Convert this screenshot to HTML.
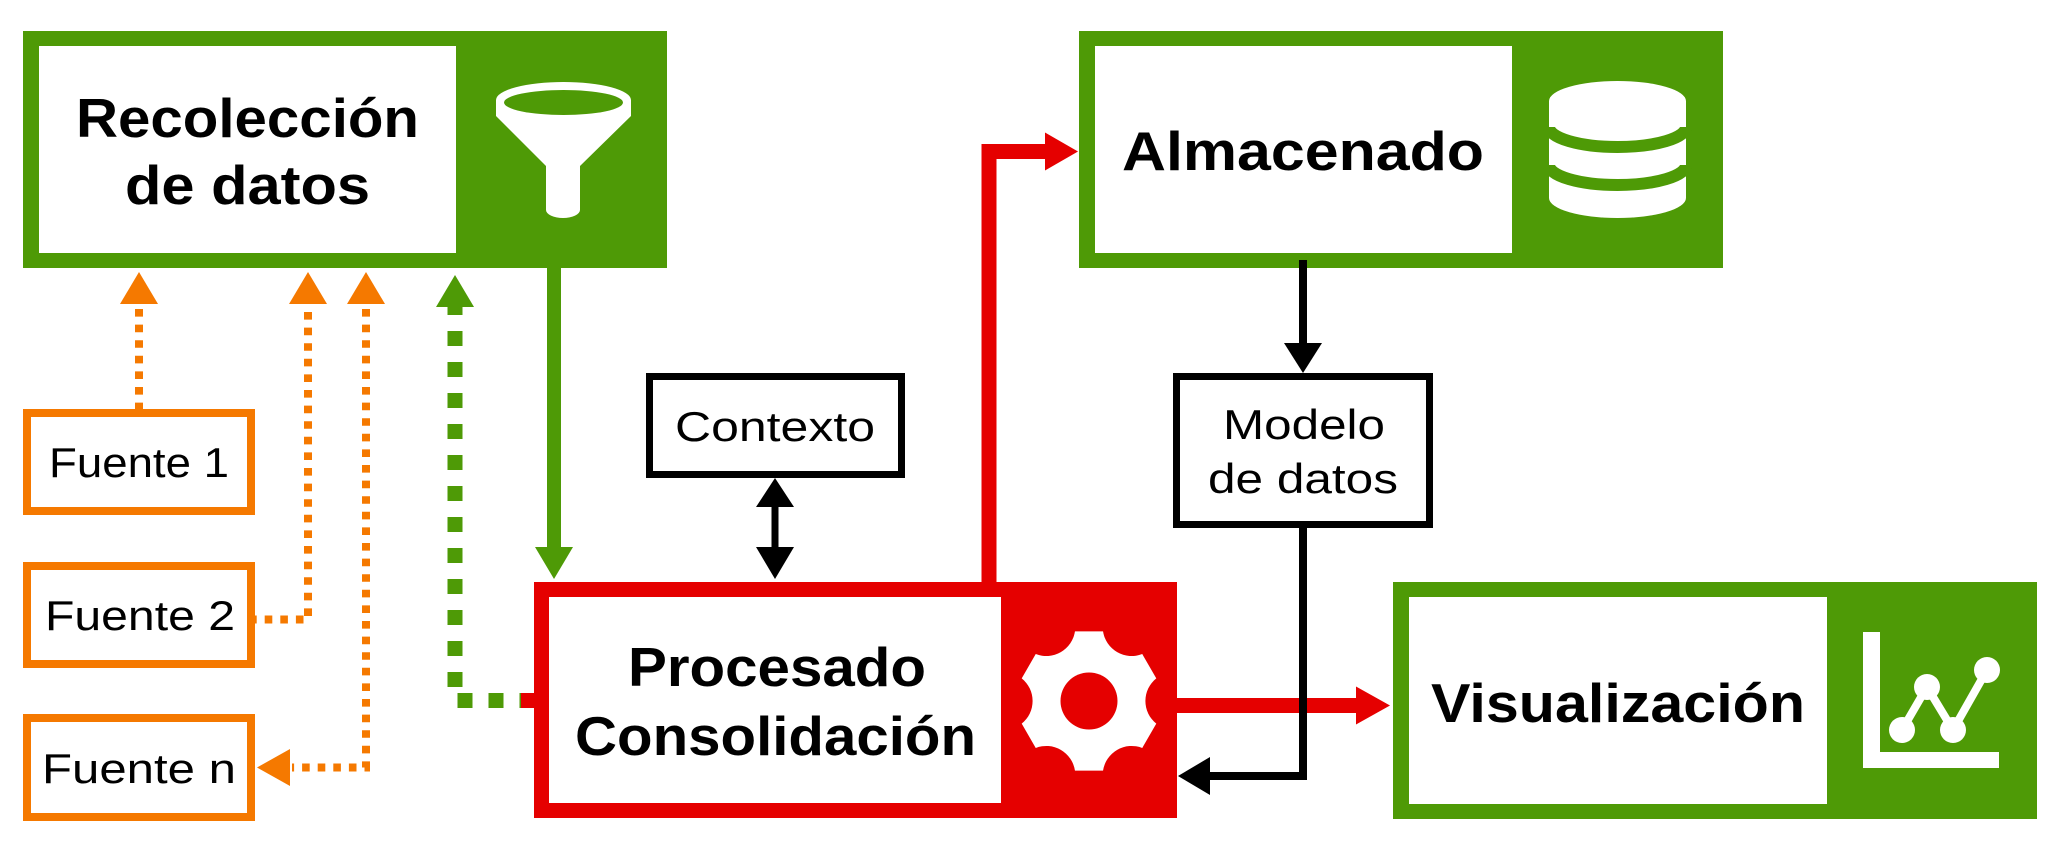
<!DOCTYPE html>
<html>
<head>
<meta charset="utf-8">
<style>
  html,body{margin:0;padding:0;background:#ffffff;}
  svg{display:block;}
  .b{font-family:"Liberation Sans",Arial,sans-serif;font-weight:bold;font-size:55px;fill:#000;}
  .r{font-family:"Liberation Sans",Arial,sans-serif;font-weight:normal;font-size:42px;fill:#000;}
</style>
</head>
<body>
<svg width="2067" height="858" viewBox="0 0 2067 858" xmlns="http://www.w3.org/2000/svg">
  <rect x="0" y="0" width="2067" height="858" fill="#ffffff"/>

  <!-- Recolección de datos -->
  <rect x="23" y="31" width="644" height="237" fill="#4e9a06"/>
  <rect x="39" y="46" width="417" height="207" fill="#ffffff"/>
  <text class="b" x="76" y="137" textLength="343" lengthAdjust="spacingAndGlyphs">Recolección</text>
  <text class="b" x="125" y="204" textLength="245" lengthAdjust="spacingAndGlyphs">de datos</text>
  <!-- funnel -->
  <path d="M496,100 A67.5,18 0 0 1 631,100 L631,116 L580,166 L580,210 A17,8 0 0 1 546,210 L546,166 L496,116 Z" fill="#ffffff"/>
  <ellipse cx="563.5" cy="102.5" rx="59.5" ry="12.5" fill="#4e9a06"/>

  <!-- Almacenado -->
  <rect x="1079" y="31" width="644" height="237" fill="#4e9a06"/>
  <rect x="1095" y="46" width="417" height="207" fill="#ffffff"/>
  <text class="b" x="1122" y="170" textLength="362" lengthAdjust="spacingAndGlyphs">Almacenado</text>
  <!-- database -->
  <ellipse cx="1617.5" cy="101" rx="68.5" ry="20" fill="#ffffff"/>
  <rect x="1549" y="101" width="137" height="97" fill="#ffffff"/>
  <ellipse cx="1617.5" cy="198" rx="68.5" ry="20" fill="#ffffff"/>
  <path d="M1549,127 A68.5,20 0 0 0 1686,127" fill="none" stroke="#4e9a06" stroke-width="12"/>
  <path d="M1549,165 A68.5,20 0 0 0 1686,165" fill="none" stroke="#4e9a06" stroke-width="12"/>

  <!-- Procesado Consolidación -->
  <rect x="534" y="582" width="643" height="236" fill="#e50000"/>
  <rect x="549" y="597" width="452" height="206" fill="#ffffff"/>
  <text class="b" x="628" y="686" textLength="298" lengthAdjust="spacingAndGlyphs">Procesado</text>
  <text class="b" x="575" y="755" textLength="401" lengthAdjust="spacingAndGlyphs">Consolidación</text>
  <!-- gear -->
  <g transform="translate(1089,701)">
    <path d="M-14.04,-69.6 L14.04,-69.6 A29,29 0 0 0 53.26,-46.95 L67.29,-22.65 A29,29 0 0 0 67.29,22.65 L53.26,46.95 A29,29 0 0 0 14.04,69.6 L-14.04,69.6 A29,29 0 0 0 -53.26,46.95 L-67.29,22.65 A29,29 0 0 0 -67.29,-22.65 L-53.26,-46.95 A29,29 0 0 0 -14.04,-69.6 Z" fill="#ffffff"/>
    <circle cx="0" cy="0" r="28.5" fill="#e50000"/>
  </g>

  <!-- Visualización -->
  <rect x="1393" y="582" width="644" height="237" fill="#4e9a06"/>
  <rect x="1409" y="597" width="418" height="207" fill="#ffffff"/>
  <text class="b" x="1431" y="722" textLength="374" lengthAdjust="spacingAndGlyphs">Visualización</text>
  <!-- chart -->
  <rect x="1863" y="632" width="17" height="136" fill="#ffffff"/>
  <rect x="1863" y="752" width="136" height="16" fill="#ffffff"/>
  <polyline points="1902,730 1927,687 1953,730 1987,670" fill="none" stroke="#ffffff" stroke-width="8"/>
  <circle cx="1902" cy="730" r="13" fill="#ffffff"/>
  <circle cx="1927" cy="687" r="13" fill="#ffffff"/>
  <circle cx="1953" cy="730" r="13" fill="#ffffff"/>
  <circle cx="1987" cy="670" r="13" fill="#ffffff"/>

  <!-- Fuentes -->
  <rect x="27" y="413" width="224" height="98" fill="#ffffff" stroke="#f57900" stroke-width="8"/>
  <text class="r" x="49" y="477" textLength="180" lengthAdjust="spacingAndGlyphs">Fuente 1</text>
  <rect x="27" y="566" width="224" height="98" fill="#ffffff" stroke="#f57900" stroke-width="8"/>
  <text class="r" x="45" y="630" textLength="190" lengthAdjust="spacingAndGlyphs">Fuente 2</text>
  <rect x="27" y="718" width="224" height="99" fill="#ffffff" stroke="#f57900" stroke-width="8"/>
  <text class="r" x="42" y="783" textLength="194" lengthAdjust="spacingAndGlyphs">Fuente n</text>

  <!-- Contexto -->
  <rect x="649.5" y="376.5" width="252" height="98" fill="#ffffff" stroke="#000" stroke-width="7"/>
  <text class="r" x="675" y="441" textLength="200" lengthAdjust="spacingAndGlyphs">Contexto</text>

  <!-- Modelo de datos -->
  <rect x="1176.5" y="376.5" width="253" height="148" fill="#ffffff" stroke="#000" stroke-width="7"/>
  <text class="r" x="1223" y="439" textLength="162" lengthAdjust="spacingAndGlyphs">Modelo</text>
  <text class="r" x="1208" y="493" textLength="190" lengthAdjust="spacingAndGlyphs">de datos</text>

  <!-- Orange dotted arrows -->
  <path d="M139,309 V409" fill="none" stroke="#f57900" stroke-width="8" stroke-dasharray="7.6 8"/>
  <polygon points="139,272 120,304 158,304" fill="#f57900"/>

  <path d="M308,312 V619.5 H255" fill="none" stroke="#f57900" stroke-width="8" stroke-dasharray="7.6 8"/>
  <polygon points="308,272 289,304 327,304" fill="#f57900"/>

  <path d="M366,309 V767.5 H292" fill="none" stroke="#f57900" stroke-width="8" stroke-dasharray="7.6 8"/>
  <polygon points="366,272 347,304 385,304" fill="#f57900"/>
  <polygon points="257,767.5 290,749 290,786" fill="#f57900"/>

  <!-- Green dotted arrow -->
  <path d="M455,307 V700.5 H534" fill="none" stroke="#4e9a06" stroke-width="15" stroke-dasharray="15 16" stroke-dashoffset="7"/>
  <polygon points="455,275 436,307 474,307" fill="#4e9a06"/>
  <rect x="521" y="693" width="14" height="15" fill="#e50000"/>

  <!-- Green solid arrow -->
  <path d="M554,268 V548" fill="none" stroke="#4e9a06" stroke-width="14"/>
  <polygon points="554,579 535,547 573,547" fill="#4e9a06"/>

  <!-- Double black arrow -->
  <path d="M775,505 V549" fill="none" stroke="#000" stroke-width="7"/>
  <polygon points="775,478 756,507 794,507" fill="#000"/>
  <polygon points="775,579 756,547 794,547" fill="#000"/>

  <!-- Red arrow to Almacenado -->
  <path d="M989,583 V151.5 H1046" fill="none" stroke="#e50000" stroke-width="15" stroke-linejoin="miter"/>
  <polygon points="1078,151.5 1045,132.5 1045,170.5" fill="#e50000"/>

  <!-- Red arrow to Visualización -->
  <path d="M1176,705.5 H1357" fill="none" stroke="#e50000" stroke-width="15"/>
  <polygon points="1390,705.5 1356,686.5 1356,724.5" fill="#e50000"/>

  <!-- Black arrow Almacenado -> Modelo -->
  <path d="M1303,260 V344" fill="none" stroke="#000" stroke-width="8"/>
  <polygon points="1303,373 1284,343 1322,343" fill="#000"/>

  <!-- Black arrow Modelo -> Procesado -->
  <path d="M1303,528 V776 H1209" fill="none" stroke="#000" stroke-width="8"/>
  <polygon points="1178,776 1210,757 1210,795" fill="#000"/>
</svg>
</body>
</html>
